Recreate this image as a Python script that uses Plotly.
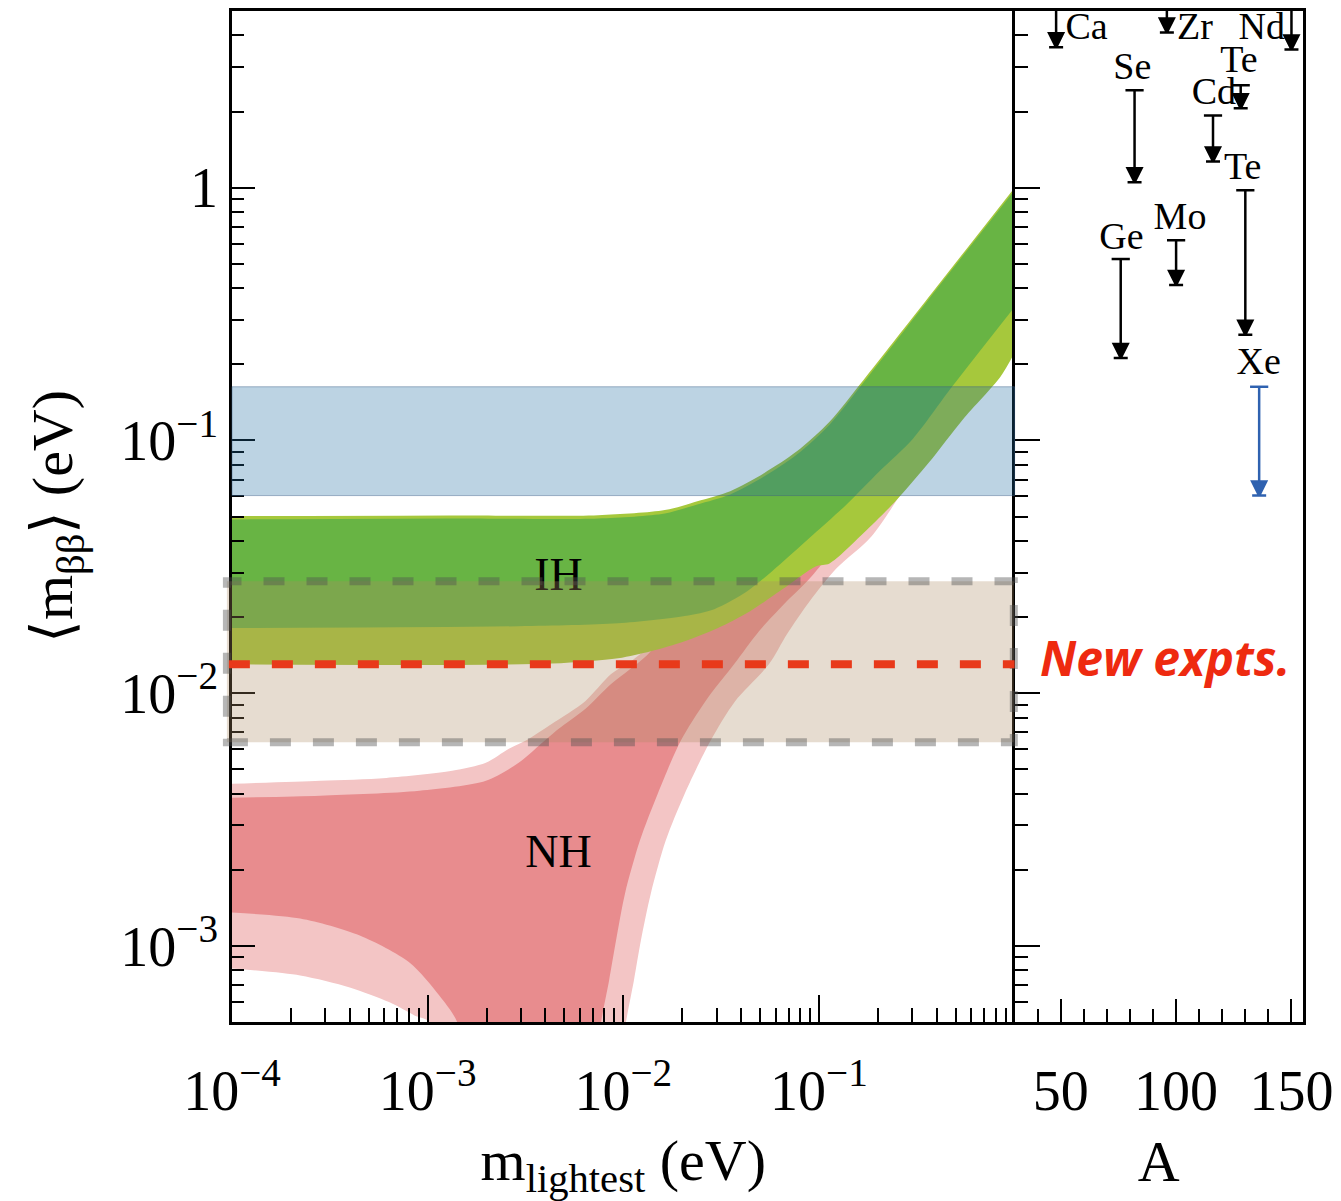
import plotly.graph_objects as go

# ---------------- effective Majorana mass bands (m_lightest [eV] -> <m_bb> [eV]) ----------------
# Inverted hierarchy, 3-sigma band
ih3_up_m = [1e-4, 1.29e-3, 7.45e-3, 0.0163, 0.0239, 0.0352, 0.0524, 0.0771, 0.1133, 0.1686, 0.365, 1.0]
ih3_up = [0.0502, 0.0505, 0.0506, 0.0530, 0.0575, 0.0630, 0.0742, 0.0905, 0.1185, 0.173, 0.37, 1.0]
ih3_lo_m = [1e-4, 4.3e-3, 9.4e-3, 0.01382, 0.0206, 0.0303, 0.04446, 0.0662, 0.0968, 0.1133, 0.1686,
            0.248, 0.3648, 0.5427, 0.847, 1.0]
ih3_lo = [0.0130, 0.0131, 0.01375, 0.01466, 0.01606, 0.01807, 0.0211, 0.0260, 0.0318, 0.0326, 0.0429,
          0.0578, 0.0817, 0.1208, 0.1786, 0.222]

# Inverted hierarchy, best-fit band
ih1_up_m = [1e-4, 1.29e-3, 7.45e-3, 0.0163, 0.0239, 0.0352, 0.0524, 0.0771, 0.1133, 0.1686, 0.365, 1.0]
ih1_up = [0.0487, 0.0491, 0.0491, 0.0514, 0.0558, 0.0611, 0.0720, 0.0879, 0.1154, 0.169, 0.363, 0.977]
ih1_lo_m = [1e-4, 2.92e-3, 9.4e-3, 0.0206, 0.0292, 0.0430, 0.0631, 0.0939, 0.1384, 0.2033, 0.3025, 0.483, 1.0]
ih1_lo = [0.0181, 0.0184, 0.0189, 0.0202, 0.0215, 0.0253, 0.0323, 0.0425, 0.0558, 0.0753, 0.1016, 0.1645, 0.3375]

# Normal hierarchy, 3-sigma band
nh3_up_m = [1e-4, 2.82e-4, 6.15e-4, 1.333e-3, 1.985e-3, 2.6e-3, 3.28e-3, 4.3e-3, 6.39e-3, 8.66e-3,
            0.01094, 0.01382, 0.0206, 0.0352, 0.0771, 0.2, 1.0]
nh3_up = [0.00438, 0.0045, 0.00462, 0.00493, 0.0053, 0.00602, 0.00659, 0.00755, 0.0093, 0.0119,
          0.01338, 0.01563, 0.025, 0.04, 0.08, 0.2, 0.99]
nh3_lo_m = [1e-4, 2.23e-4, 4.0e-4, 6.39e-4, 8.56e-4, 1.02e-3, 1.2e-3, 9.3e-3, 0.01032, 0.01133,
            0.0123, 0.01382, 0.01648, 0.0206, 0.02787, 0.0373, 0.0556, 0.0686, 0.0897, 0.123,
            0.1854, 0.3648, 1.0]
nh3_lo = [8.14e-4, 7.64e-4, 6.85e-4, 5.98e-4, 5.31e-4, 5e-4, 3e-4, 3e-4, 5e-4, 7.3e-4,
          1.05e-3, 1.61e-3, 2.61e-3, 4.0e-3, 6.47e-3, 9.3e-3, 0.01303, 0.0171, 0.0231, 0.0312,
          0.0417, 0.09, 0.235]

# Normal hierarchy, best-fit band
nh1_up_m = [1e-4, 2.82e-4, 9.08e-4, 1.985e-3, 2.92e-3, 3.69e-3, 4.66e-3, 6.39e-3, 8.66e-3, 0.01382,
            0.0206, 0.0352, 0.0771, 0.2, 1.0]
nh1_up = [0.00386, 0.00393, 0.00411, 0.0045, 0.0053, 0.00618, 0.00721, 0.00865, 0.01086, 0.01466,
          0.024, 0.038, 0.078, 0.2, 0.98]
nh1_lo_m = [1e-4, 2.23e-4, 4.5e-4, 8.07e-4, 1.147e-3, 1.415e-3, 1.6e-3, 7.0e-3, 7.7e-3, 8.46e-3,
            9.18e-3, 0.0102, 0.01216, 0.0150, 0.01963, 0.0263, 0.0369, 0.0494, 0.0662, 0.0918,
            0.2033, 1.0]
nh1_lo = [1.355e-3, 1.283e-3, 1.099e-3, 8.6e-4, 6.37e-4, 5e-4, 3e-4, 3e-4, 5e-4, 7.3e-4,
          1.05e-3, 1.61e-3, 2.61e-3, 4.0e-3, 6.47e-3, 9.3e-3, 0.01303, 0.01758, 0.02247, 0.029,
          0.063, 0.31]

# Horizontal bands [eV]
current_limit = [0.0605, 0.163]       # blue band
next_gen_range = [0.0064, 0.0277]     # beige band
new_expts_reach = 0.013               # red dashed line

# ---------------- isotope limits (right panel) ----------------
isotopes = ["Ca", "Zr", "Nd", "Se", "Te", "Cd", "Te", "Mo", "Ge", "Xe"]
mass_number = [48, 96, 150, 82, 128, 116, 130, 100, 76, 136]
limit_top = [22.0, 19.5, 6.3, 2.43, 2.54, 1.93, 0.977, 0.62, 0.522, 0.163]
limit_bottom = [3.59, 4.11, 3.52, 1.05, 2.06, 1.27, 0.262, 0.412, 0.212, 0.0605]
label_A = [61.2, 108.2, 137.1, 81.0, 127.2, 116.4, 128.9, 101.7, 76.3, 135.8]
label_mbb = [4.23, 4.23, 4.23, 2.94, 3.13, 2.34, 1.18, 0.751, 0.626, 0.20]
limit_colors = ["black"] * 9 + ["#2f62b0"]

# Axis ticks
x_major = [1e-4, 1e-3, 1e-2, 1e-1]
x_major_text = ["10<sup>−4</sup>", "10<sup>−3</sup>", "10<sup>−2</sup>", "10<sup>−1</sup>"]
y_major = [1e-3, 1e-2, 1e-1, 1]
y_major_text = ["10<sup>−3</sup>", "10<sup>−2</sup>", "10<sup>−1</sup>", "1"]
A_major = [50, 100, 150]

x_minor = [k * 10.0 ** e for e in range(-4, 0) for k in range(2, 10)]
y_minor = [k * 10.0 ** e for e in range(-4, 1) for k in range(2, 10)]

SERIF = "Liberation Serif"
DARK_GREEN = "#68b444"
LIGHT_GREEN = "#a6c83c"
DARK_PINK = "#e88c8e"
LIGHT_PINK = "#f3c5c5"

fig = go.Figure()


def band(lo_m, lo, up_m, up, color):
    fig.add_trace(go.Scatter(x=lo_m, y=lo, mode="lines", line=dict(width=0, shape="spline", smoothing=0.8),
                             hoverinfo="skip", showlegend=False, xaxis="x", yaxis="y"))
    fig.add_trace(go.Scatter(x=up_m, y=up, mode="lines", line=dict(width=0, shape="spline", smoothing=0.8),
                             fill="tonexty", fillcolor=color, hoverinfo="skip", showlegend=False,
                             xaxis="x", yaxis="y"))


band(nh3_lo_m, nh3_lo, nh3_up_m, nh3_up, LIGHT_PINK)
band(nh1_lo_m, nh1_lo, nh1_up_m, nh1_up, DARK_PINK)
band(ih3_lo_m, ih3_lo, ih3_up_m, ih3_up, LIGHT_GREEN)
band(ih1_lo_m, ih1_lo, ih1_up_m, ih1_up, DARK_GREEN)

# Hierarchy labels
fig.add_trace(go.Scatter(x=[4.66e-3, 4.66e-3], y=[0.0285, 2.275e-3], text=["IH", "NH"], mode="text",
                         textfont=dict(family=SERIF, size=46, color="black"), textposition="middle center",
                         hoverinfo="skip", showlegend=False, xaxis="x", yaxis="y"))

# Isotope limit arrows
for A, top, bot, col in zip(mass_number, limit_top, limit_bottom, limit_colors):
    fig.add_trace(go.Scatter(x=[A, A], y=[top, bot], mode="lines", line=dict(color=col, width=2.5),
                             hoverinfo="skip", showlegend=False, xaxis="x2", yaxis="y2"))
    fig.add_trace(go.Scatter(x=[A], y=[top], mode="markers",
                             marker=dict(symbol="line-ew", size=13, line=dict(color=col, width=2.5)),
                             hoverinfo="skip", showlegend=False, xaxis="x2", yaxis="y2"))
    fig.add_trace(go.Scatter(x=[A], y=[bot], mode="markers",
                             marker=dict(symbol="arrow-bar-down", size=14, color=col,
                                         line=dict(color=col, width=2.5)),
                             hoverinfo="skip", showlegend=False, xaxis="x2", yaxis="y2"))

fig.add_trace(go.Scatter(x=label_A, y=label_mbb, text=isotopes, mode="text",
                         textfont=dict(family=SERIF, size=38, color="black"), textposition="middle center",
                         cliponaxis=False, hoverinfo="skip", showlegend=False, xaxis="x2", yaxis="y2"))

fig.add_trace(go.Scatter(x=[41], y=[new_expts_reach], text=["New expts."], mode="text",
                         textfont=dict(family="Open Sans", size=48, color="#ee2a10", weight="bold",
                                       style="italic"),
                         textposition="middle right", cliponaxis=False, hoverinfo="skip", showlegend=False,
                         xaxis="x2", yaxis="y2"))

# Horizontal bands and the sensitivity line
fig.add_shape(type="rect", xref="x domain", yref="y", x0=0, x1=1,
              y0=current_limit[0], y1=current_limit[1], layer="above",
              fillcolor="rgba(32,108,162,0.30)", line=dict(color="rgba(60,95,135,0.45)", width=1))
fig.add_shape(type="rect", xref="x domain", yref="y", x0=-0.0065, x1=0.999,
              y0=next_gen_range[0], y1=next_gen_range[1], layer="above",
              fillcolor="rgba(172,138,98,0.30)",
              line=dict(color="rgba(80,80,80,0.42)", width=8, dash="21px,22px"))
fig.add_shape(type="line", xref="x domain", yref="y", x0=-0.004, x1=1.0,
              y0=new_expts_reach, y1=new_expts_reach, layer="above",
              line=dict(color="#e8391a", width=8, dash="21px,22px"))

axis_common = dict(showline=True, linecolor="black", linewidth=2.5, ticks="inside",
                   tickcolor="black", tickwidth=2, showgrid=False, zeroline=False,
                   tickfont=dict(family=SERIF, size=56, color="black"))
y2_common = {k: v for k, v in axis_common.items() if k != "tickfont"}

y_range = [-3.30103, 0.69897]

fig.update_layout(
    width=1341, height=1201,
    margin=dict(l=232, r=32, t=8, b=179),
    paper_bgcolor="white", plot_bgcolor="white",
    xaxis=dict(type="log", range=[-4, 0], domain=[0, 0.7307], anchor="y", mirror=True,
               tickvals=x_major, ticktext=x_major_text, ticklen=27, ticklabelstandoff=18,
               minor=dict(tickvals=x_minor, ticks="inside", ticklen=14, tickwidth=2, tickcolor="black"),
               title=dict(text="m<sub>lightest</sub> (eV)", font=dict(family=SERIF, size=58, color="black"),
                          standoff=20),
               **axis_common),
    yaxis=dict(type="log", range=y_range, domain=[0, 1], anchor="x", mirror=False,
               tickvals=y_major, ticktext=y_major_text, ticklen=23,
               minor=dict(tickvals=y_minor, ticks="inside", ticklen=12, tickwidth=2, tickcolor="black"),
               title=dict(text="⟨m<sub>ββ</sub>⟩ (eV)", font=dict(family=SERIF, size=58, color="black"),
                          standoff=30),
               **axis_common),
    xaxis2=dict(range=[30, 155], domain=[0.7307, 1], anchor="y2", mirror=True,
                tickvals=A_major, ticklen=23, ticklabelstandoff=18,
                minor=dict(dtick=10, tick0=0, ticks="inside", ticklen=13, tickwidth=2, tickcolor="black"),
                title=dict(text="A", font=dict(family=SERIF, size=58, color="black"), standoff=20),
                **axis_common),
    yaxis2=dict(type="log", range=y_range, domain=[0, 1], anchor="x2", matches="y", mirror=True,
                tickvals=y_major, ticklen=26, showticklabels=False,
                minor=dict(tickvals=y_minor, ticks="inside", ticklen=14, tickwidth=2, tickcolor="black"),
                **y2_common),
)

fig.write_html("out.html")
